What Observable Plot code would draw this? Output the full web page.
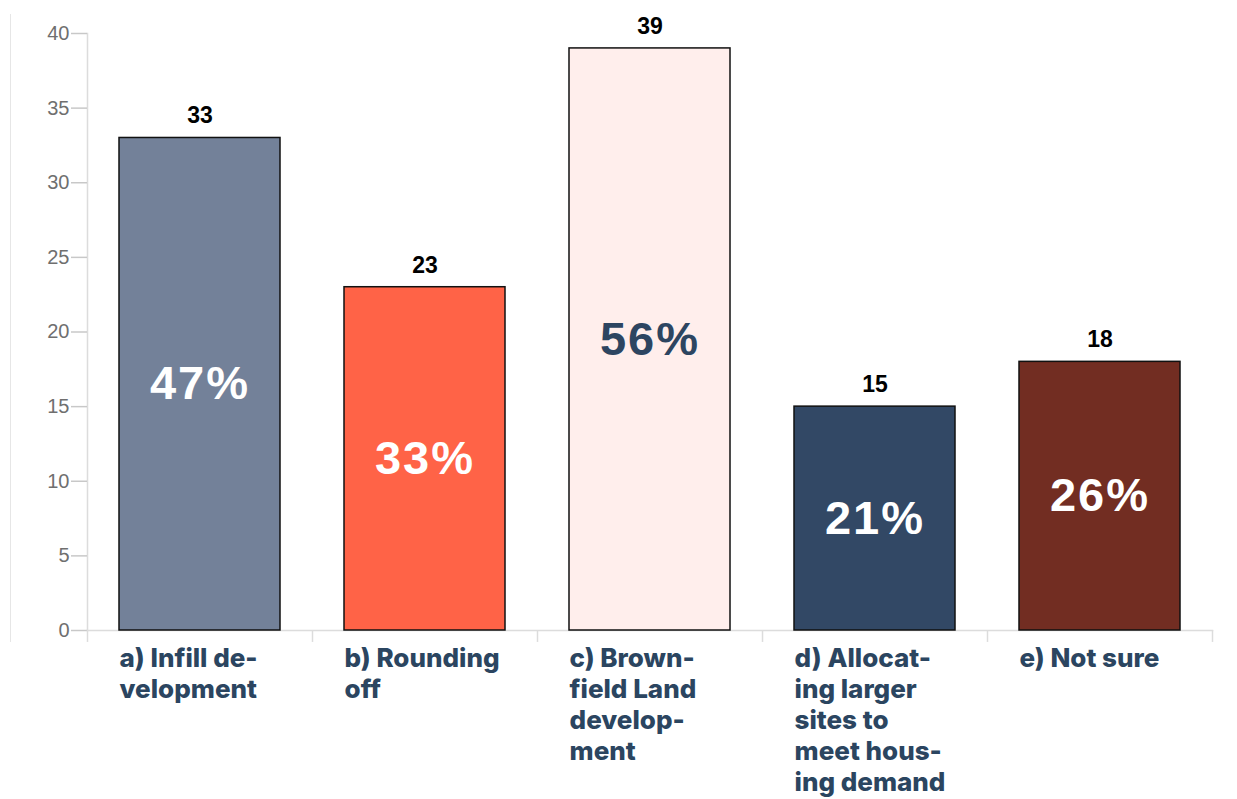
<!DOCTYPE html>
<html><head><meta charset="utf-8">
<script src="https://cdn.jsdelivr.net/npm/d3@7"></script>
<script src="https://cdn.jsdelivr.net/npm/@observablehq/plot@0.6"></script>
<style>
html,body{margin:0;padding:0;background:#fff;}
#wrap{position:relative;width:1237px;height:799px;}
#wrap::before{content:"";position:absolute;left:10px;top:14px;height:628px;border-left:1px solid #e6e6e6;}
</style>
</head><body><div id="wrap"></div>
<script>
const categories = ["a","b","c","d","e"];
const tickLabels = ["a) Infill de-\nvelopment","b) Rounding\noff","c) Brown-\nfield Land\ndevelop-\nment","d) Allocat-\ning larger\nsites to\nmeet hous-\ning demand","e) Not sure"];
const counts = [33, 23, 39, 15, 18];
const percents = ["47%","33%","56%","21%","26%"];
const colors = ["#738199","#ff6347","#ffeeec","#324865","#722d22"];
const pctColors = ["#ffffff","#ffffff","#2d4561","#ffffff","#ffffff"];
const yTicks = [0,5,10,15,20,25,30,35,40];

const data = categories.map((c,i)=>({cat:c, label:tickLabels[i], n:counts[i], pct:percents[i], fill:colors[i], pc:pctColors[i]}));

const W = 1237, ml = 87, mr = 25;
const step = (W - ml - mr) / categories.length;
const pad = 0.285;
const bw = step * (1 - pad);

const chart = Plot.plot({
  width: W, height: 799,
  marginLeft: ml, marginRight: mr, marginTop: 33, marginBottom: 169,
  style: {fontFamily: "Liberation Sans, Arial, sans-serif", background: "#fff"},
  x: {domain: categories, paddingInner: pad, paddingOuter: pad/2, axis: null},
  y: {domain: [0, 40], axis: null},
  marks: [
    Plot.frame({anchor: "left", stroke: "#dcdcdc", strokeWidth: 1.5}),
    Plot.frame({anchor: "bottom", stroke: "#dcdcdc", strokeWidth: 1.5}),
    Plot.axisY({ticks: yTicks, tickSize: 16, tickPadding: 2, stroke: "#c8c8c8", fill: "#6f6f6f", fontSize: 20, label: null, strokeWidth: 1.5}),
    Plot.ruleX(data, {x: "cat", y1: 0, y2: -0.8, dx: -step/2, stroke: "#dcdcdc", strokeWidth: 1.5}),
    Plot.ruleX(data.slice(-1), {x: "cat", y1: 0, y2: -0.8, dx: step/2, stroke: "#dcdcdc", strokeWidth: 1.5}),
    Plot.barY(data, {x: "cat", y: "n", fill: "fill", stroke: "#111", strokeWidth: 1.5}),
    Plot.text(data, {x: "cat", y: "n", text: d=>String(d.n), dy: -22, fill: "#000", fontSize: 23, fontWeight: "bold"}),
    Plot.text(data, {x: "cat", y: d=>d.n/2, text: "pct", fill: "pc", fontSize: 47, fontWeight: "bold"}),
    Plot.text(data, {x: "cat", y: 0, text: "label", textAnchor: "start", lineAnchor: "top", dx: -bw/2, dy: 14, lineHeight: 1.2, fill: "#2b4560", fontSize: 26, fontWeight: 800, fontFamily: "Inter, sans-serif"})
  ]
});
document.getElementById("wrap").appendChild(chart);
d3.select(chart).selectAll("g[font-size='47'] text").style("letter-spacing", "2px");
</script>
</body></html>
